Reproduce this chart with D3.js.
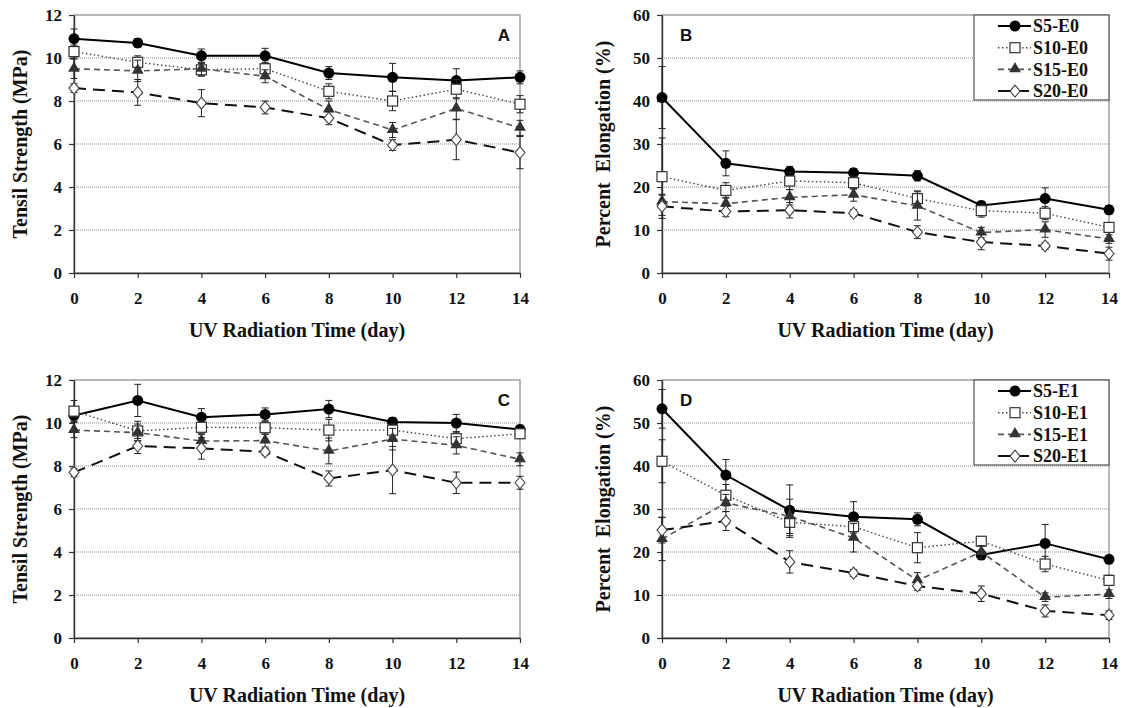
<!DOCTYPE html>
<html>
<head>
<meta charset="utf-8">
<script src="https://cdn.jsdelivr.net/npm/d3@7"></script>
<style>
  body { margin: 0; background: #fff; }
  svg { display: block; }
  .tick text { font-family: "Liberation Serif", "Times New Roman", serif; font-weight: bold; font-size: 17px; fill: #111; }
  .axis-label { font-family: "Liberation Serif", "Times New Roman", serif; font-weight: bold; font-size: 20px; fill: #111; }
  .panel-letter { font-family: "Liberation Sans", Arial, sans-serif; font-weight: bold; font-size: 17px; fill: #111; }
  .legend text { font-family: "Liberation Serif", "Times New Roman", serif; font-weight: bold; font-size: 18px; fill: #111; }
</style>
</head>
<body>
<div id="chart"></div>
<script>
// data
const days = [0, 2, 4, 6, 8, 10, 12, 14];
const namesE0 = ["S5-E0", "S10-E0", "S15-E0", "S20-E0"];
const namesE1 = ["S5-E1", "S10-E1", "S15-E1", "S20-E1"];

// A: tensile strength, E0
const tensileE0 = [
  [10.9, 10.7, 10.1, 10.1, 9.3, 9.1, 8.95, 9.1],
  [10.3, 9.8, 9.45, 9.5, 8.45, 8.0, 8.55, 7.85],
  [9.5, 9.4, 9.5, 9.15, 7.6, 6.65, 7.65, 6.75],
  [8.6, 8.4, 7.9, 7.7, 7.2, 5.95, 6.2, 5.6]
];
const tensileE0Err = [
  [0.45, 0.2, 0.32, 0.35, 0.3, 0.65, 0.55, 0.3],
  [0.3, 0.3, 0.3, 0.3, 0.35, 0.45, 0.45, 0.4],
  [0.45, 0.5, 0.3, 0.3, 0.4, 0.35, 0.5, 0.35],
  [0.2, 0.6, 0.63, 0.3, 0.3, 0.25, 0.93, 0.75]
];

// B: elongation, E0
const elongE0 = [
  [40.8, 25.5, 23.6, 23.3, 22.6, 15.7, 17.3, 14.7],
  [22.4, 19.2, 21.4, 21.0, 17.3, 14.5, 13.9, 10.6],
  [16.6, 16.1, 17.6, 18.2, 15.6, 9.4, 10.1, 7.9],
  [15.5, 14.3, 14.6, 13.9, 9.5, 7.2, 6.3, 4.5]
];
const elongE0Err = [
  [7.2, 2.9, 1.2, 1.0, 1.2, 1.0, 2.5, 1.0],
  [9.0, 1.8, 2.0, 1.5, 1.8, 1.5, 1.5, 0.8],
  [1.5, 1.5, 1.8, 1.5, 3.3, 1.2, 1.8, 1.0],
  [2.8, 1.2, 1.8, 0.8, 1.5, 1.8, 0.8, 1.5]
];

// C: tensile strength, E1
const tensileE1 = [
  [10.35, 11.05, 10.27, 10.4, 10.65, 10.05, 10.0, 9.7],
  [10.55, 9.63, 9.8, 9.78, 9.67, 9.67, 9.27, 9.5],
  [9.67, 9.55, 9.16, 9.18, 8.7, 9.25, 8.96, 8.31],
  [7.7, 8.93, 8.82, 8.66, 7.42, 7.81, 7.22, 7.22]
];
const tensileE1Err = [
  [0.25, 0.75, 0.4, 0.3, 0.4, 0.2, 0.4, 0.2],
  [0.5, 0.45, 0.3, 0.3, 0.5, 0.3, 0.3, 0.2],
  [0.35, 0.4, 0.3, 0.3, 0.6, 0.5, 0.4, 0.3],
  [0.2, 0.35, 0.5, 0.15, 0.35, 1.1, 0.5, 0.3]
];

// D: elongation, E1
const elongE1 = [
  [53.3, 37.9, 29.7, 28.2, 27.6, 19.3, 22.0, 18.3],
  [41.1, 33.2, 26.9, 25.9, 21.0, 22.5, 17.2, 13.4],
  [23.0, 31.4, 28.3, 23.3, 13.4, 20.0, 9.5, 10.2],
  [25.1, 27.2, 17.7, 15.1, 12.1, 10.3, 6.3, 5.3]
];
const elongE1Err = [
  [4.5, 3.6, 5.9, 3.5, 1.5, 1.0, 4.4, 0.6],
  [5.0, 2.5, 3.5, 1.5, 3.5, 1.0, 1.8, 1.2],
  [5.0, 2.0, 4.0, 3.3, 1.8, 1.5, 1.0, 1.0],
  [3.0, 2.2, 2.6, 0.8, 1.0, 1.8, 1.4, 1.0]
];

// series styles: S5, S10, S15, S20
const styles = [
  { stroke: "#000", width: 2, dash: null, marker: "circle" },
  { stroke: "#444", width: 1.4, dash: "1.5,2.5", marker: "square" },
  { stroke: "#555", width: 1.6, dash: "6,4", marker: "triangle" },
  { stroke: "#111", width: 2, dash: "12,7", marker: "diamond" }
];

const svg = d3.select("#chart").append("svg")
  .attr("width", 1125)
  .attr("height", 708);

function drawMarker(g, type, cx, cy) {
  if (type === "circle") {
    g.append("circle").attr("cx", cx).attr("cy", cy).attr("r", 5.5).attr("fill", "#000");
  } else if (type === "square") {
    g.append("rect").attr("x", cx - 5).attr("y", cy - 5).attr("width", 10).attr("height", 10)
      .attr("fill", "#fff").attr("stroke", "#333").attr("stroke-width", 1.2);
  } else if (type === "triangle") {
    g.append("path").attr("d", d3.symbol().type(d3.symbolTriangle).size(60)())
      .attr("transform", "translate(" + cx + "," + (cy - 0.5) + ")")
      .attr("fill", "#333");
  } else {
    g.append("path").attr("d", "M0,-6L5,0L0,6L-5,0Z")
      .attr("transform", "translate(" + cx + "," + cy + ")")
      .attr("fill", "#fff").attr("stroke", "#444").attr("stroke-width", 1.1);
  }
}

function drawPanel(p) {
  const x = d3.scaleLinear().domain([0, 14]).range([p.left, p.right]);
  const y = d3.scaleLinear().domain([0, p.yMax]).range([p.bottom, p.top]);
  const g = svg.append("g");

  // frame
  g.append("rect")
    .attr("x", p.left).attr("y", p.top)
    .attr("width", p.right - p.left).attr("height", p.bottom - p.top)
    .attr("fill", "none").attr("stroke", "#888").attr("stroke-width", 1.2);

  // dotted gridlines
  g.selectAll(".grid")
    .data(p.yTicks.filter(t => t > 0 && t < p.yMax))
    .enter().append("line")
    .attr("x1", p.left).attr("x2", p.right)
    .attr("y1", d => y(d)).attr("y2", d => y(d))
    .attr("stroke", "#888").attr("stroke-width", 1)
    .attr("stroke-dasharray", "1,1");

  // axes
  const xAxis = g.append("g")
    .attr("transform", "translate(0," + p.bottom + ")")
    .call(d3.axisBottom(x).tickValues(days).tickSize(5).tickSizeOuter(0).tickPadding(14));
  const yAxis = g.append("g")
    .attr("transform", "translate(" + p.left + ",0)")
    .call(d3.axisLeft(y).tickValues(p.yTicks).tickSize(5).tickSizeOuter(0).tickPadding(7));
  [xAxis, yAxis].forEach(a => {
    a.select(".domain").attr("stroke", "#333").attr("stroke-width", 1.4);
    a.selectAll(".tick line").attr("stroke", "#333").attr("stroke-width", 1.2);
  });

  // axis titles
  g.append("text")
    .attr("class", "axis-label")
    .attr("x", (p.left + p.right) / 2)
    .attr("y", p.bottom + 64)
    .attr("text-anchor", "middle")
    .text("UV Radiation Time (day)");
  const yl = g.append("text")
    .attr("class", "axis-label")
    .attr("transform", "rotate(-90)")
    .attr("x", -(p.top + p.bottom) / 2)
    .attr("y", p.yLabelX)
    .attr("text-anchor", "middle");
  p.yLabel.forEach((w, i) => {
    yl.append("tspan").attr("dx", i === 0 ? 0 : p.labelGap).text((i === 0 ? "" : " ") + w);
  });

  // panel letter
  g.append("text")
    .attr("class", "panel-letter")
    .attr("x", p.letterRight ? p.right - 10 : p.left + 18)
    .attr("y", p.top + 26)
    .attr("text-anchor", p.letterRight ? "end" : "start")
    .text(p.letter);

  // series
  p.values.forEach((vals, i) => {
    const st = styles[i];
    const sg = g.append("g");
    const pts = days.map((d, j) => ({ day: d, v: vals[j], e: p.errors[i][j] }));

    // error bars
    pts.forEach(d => {
      const cx = x(d.day);
      sg.append("line").attr("x1", cx).attr("x2", cx)
        .attr("y1", y(d.v - d.e)).attr("y2", y(d.v + d.e))
        .attr("stroke", "#222").attr("stroke-width", 1);
      [d.v - d.e, d.v + d.e].forEach(t => {
        sg.append("line").attr("x1", cx - 3.5).attr("x2", cx + 3.5)
          .attr("y1", y(t)).attr("y2", y(t))
          .attr("stroke", "#222").attr("stroke-width", 1);
      });
    });

    sg.append("path")
      .datum(pts)
      .attr("d", d3.line().x(d => x(d.day)).y(d => y(d.v)))
      .attr("fill", "none")
      .attr("stroke", st.stroke)
      .attr("stroke-width", st.width)
      .attr("stroke-dasharray", st.dash);

    pts.forEach(d => drawMarker(sg, st.marker, x(d.day), y(d.v)));
  });

  // legend
  if (p.names) {
    const lg = g.append("g").attr("class", "legend");
    lg.append("rect")
      .attr("x", 974).attr("y", p.top)
      .attr("width", p.right - 974).attr("height", 85)
      .attr("fill", "#fff").attr("stroke", "#555").attr("stroke-width", 1.2);
    p.names.forEach((name, i) => {
      const st = styles[i];
      const ry = p.top + 11 + i * 21.7;
      lg.append("line")
        .attr("x1", 998).attr("x2", 1031)
        .attr("y1", ry).attr("y2", ry)
        .attr("stroke", st.stroke).attr("stroke-width", st.width)
        .attr("stroke-dasharray", st.dash);
      drawMarker(lg, st.marker, 1015, ry);
      lg.append("text")
        .attr("x", 1033).attr("y", ry)
        .attr("dy", "0.35em")
        .text(name);
    });
  }
}

drawPanel({ left: 74, right: 520, top: 15, bottom: 273, yMax: 12, yTicks: [0, 2, 4, 6, 8, 10, 12],
  yLabel: ["Tensil", "Strength", "(MPa)"], labelGap: 0, yLabelX: 27, letter: "A", letterRight: true,
  values: tensileE0, errors: tensileE0Err });
drawPanel({ left: 662, right: 1109, top: 15, bottom: 273, yMax: 60, yTicks: [0, 10, 20, 30, 40, 50, 60],
  yLabel: ["Percent", "Elongation (%)"], labelGap: 5, yLabelX: 610, letter: "B", letterRight: false,
  values: elongE0, errors: elongE0Err, names: namesE0 });
drawPanel({ left: 74, right: 520, top: 380, bottom: 638, yMax: 12, yTicks: [0, 2, 4, 6, 8, 10, 12],
  yLabel: ["Tensil", "Strength", "(MPa)"], labelGap: 0, yLabelX: 27, letter: "C", letterRight: true,
  values: tensileE1, errors: tensileE1Err });
drawPanel({ left: 662, right: 1109, top: 380, bottom: 638, yMax: 60, yTicks: [0, 10, 20, 30, 40, 50, 60],
  yLabel: ["Percent", "Elongation (%)"], labelGap: 5, yLabelX: 610, letter: "D", letterRight: false,
  values: elongE1, errors: elongE1Err, names: namesE1 });
</script>
</body>
</html>
